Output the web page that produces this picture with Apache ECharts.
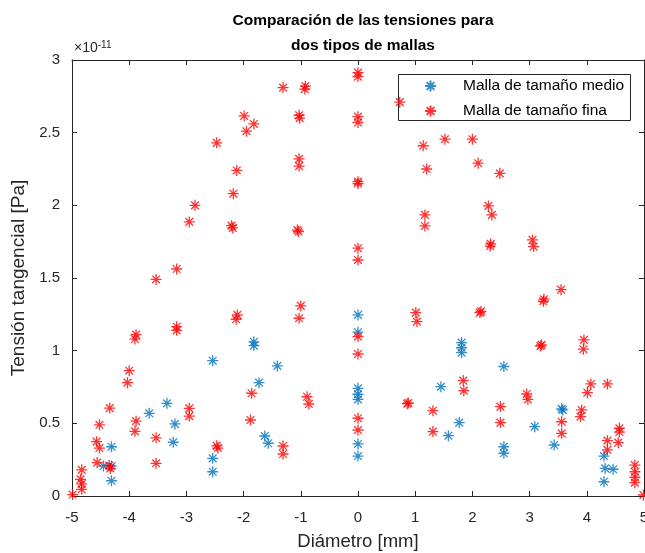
<!DOCTYPE html>
<html>
<head>
<meta charset="utf-8">
<script src="https://cdn.jsdelivr.net/npm/echarts@6/dist/echarts.min.js"></script>
<style>
html,body{margin:0;padding:0;background:#fff;}
#c{width:645px;height:553px;}
</style>
</head>
<body>
<div id="c"></div>
<script>
// Diámetro [mm] and Tensión tangencial [Pa] (values in units of 1e-11 Pa)
const mediumDiam = [-4.31,-4.45,-4.31,-4.31,-3.65,-3.34,-3.20,-3.23,-2.54,-2.54,-2.54,
  -1.82,-1.82,-1.73,-1.41,-1.63,-1.57,
  0,0,0,0,0,0,0,
  1.45,1.58,1.77,1.81,1.81,1.81,2.55,2.55,2.55,3.09,3.43,3.58,3.56,4.30,4.32,4.46,4.30];
const mediumTension = [0.339,0.206,0.206,0.105,0.569,0.638,0.496,0.370,0.931,0.259,0.167,
  1.060,1.035,0.780,0.895,0.413,0.363,
  1.246,1.127,0.741,0.700,0.665,0.358,0.275,
  0.752,0.415,0.505,1.056,0.986,1.020,0.891,0.339,0.294,0.477,0.351,0.592,0.600,0.275,0.190,0.184,0.098];

const fineDiam = [-4.99,-4.83,-4.85,-4.83,-4.83,-4.56,-4.57,-4.52,-4.52,-4.34,-4.35,-4.33,
  -4.03,-4.00,-3.90,-3.88,-3.88,-3.90,-3.53,-3.53,-3.53,-3.17,-3.17,-3.17,-2.95,-2.95,-2.95,-2.85,
  -2.47,-2.47,-2.45,-2.21,-2.19,-2.18,-2.12,-2.11,-2.13,-1.99,-1.95,-1.82,-1.86,-1.88,
  -1.31,-1.31,-1.31,-1.03,-1.02,-1.03,-1.03,-1.06,-1.04,-1.00,-1.03,-0.92,-0.93,-0.89,-0.86,
  0,0,0,0,0,0,0,0,0,0,0,0,
  0.73,0.88,0.86,1.01,1.03,1.14,1.20,1.17,1.17,1.31,1.31,1.52,1.84,1.85,2.00,2.10,2.13,2.15,
  2.28,2.34,2.32,2.31,2.48,2.49,2.49,2.95,2.97,3.05,3.07,3.19,3.21,3.25,3.24,3.55,3.56,3.56,
  3.91,3.89,3.95,3.94,4.07,4.01,4.36,4.36,4.36,4.57,4.57,4.55,4.84,4.84,4.84,4.84,4.99];
const fineTension = [0.010,0.180,0.115,0.083,0.046,0.230,0.374,0.330,0.490,0.605,0.210,0.190,
  0.780,0.862,1.080,1.110,0.515,0.445,1.490,0.400,0.225,1.562,1.165,1.140,0.603,0.550,1.886,2.000,
  2.430,0.345,0.330,1.860,1.845,2.080,2.240,1.246,1.216,2.615,2.510,2.560,0.707,0.523,
  2.810,0.344,0.289,2.620,2.600,2.320,2.270,1.830,1.820,1.308,1.223,2.820,2.800,0.683,0.633,
  2.913,2.886,2.610,2.570,2.163,2.150,1.705,1.624,1.097,0.977,0.535,0.454,
  2.710,0.640,0.635,1.262,1.200,2.410,2.250,1.934,1.858,0.587,0.443,2.455,0.794,0.725,2.455,2.290,1.262,1.270,
  1.996,1.934,1.735,1.720,2.220,0.615,0.505,0.702,0.665,1.762,1.716,1.032,1.040,1.354,1.340,1.420,0.511,0.431,
  0.592,0.546,1.074,1.010,0.771,0.711,0.771,0.381,0.317,0.466,0.440,0.367,0.213,0.167,0.129,0.092,0.007];

const xTicks = [-5,-4,-3,-2,-1,0,1,2,3,4,5];
const yTicks = [0,0.5,1,1.5,2,2.5,3];
const seriesNames = ['Malla de tamaño medio','Malla de tamaño fina'];

const zip = (a,b) => a.map((v,i)=>[v,b[i]]);
const FONT = 'Liberation Sans, Arial, Helvetica, sans-serif';
const AX = '#262626';
const star = 'path://M10,0L10,20M0,10L20,10M3,3L17,17M3,17L17,3';

const chart = echarts.init(document.getElementById('c'), null, {renderer:'canvas'});
const axBase = {
  axisLine:{show:true, onZero:false, lineStyle:{color:AX, width:1}},
  axisTick:{show:true, inside:true, length:5, lineStyle:{color:AX}},
  splitLine:{show:false}
};
const xr = {type:'value', min:xTicks[0], max:xTicks[xTicks.length-1], interval:1};
const yr = {type:'value', min:yTicks[0], max:yTicks[yTicks.length-1], interval:0.5};
chart.setOption({
  animation:false,
  backgroundColor:'#fff',
  title:{
    text:'Comparación de las tensiones para\ndos tipos de mallas',
    left:358, top:3, textAlign:'center',
    textStyle:{fontFamily:FONT, fontWeight:'bold', fontSize:15.5, color:'#000', lineHeight:25}
  },
  legend:{
    orient:'vertical', left:424, top:78, itemWidth:11, itemHeight:11, itemGap:9,
    padding:0,
    data:seriesNames,
    textStyle:{fontFamily:FONT, fontSize:15.5, color:'#000', padding:[0,0,0,22]}
  },
  grid:{left:72, right:1, top:60, bottom:57, containLabel:false, outerBoundsMode:'none'},
  xAxis:[
    Object.assign({}, axBase, xr, {position:'bottom',
      name:'Diámetro [mm]', nameLocation:'middle', nameGap:36,
      nameTextStyle:{fontFamily:FONT, fontSize:18.5, color:AX},
      axisLabel:{fontFamily:FONT, fontSize:15, color:AX, margin:14}}),
    Object.assign({}, axBase, xr, {position:'top', axisLabel:{show:false}})
  ],
  yAxis:[
    Object.assign({}, axBase, yr, {position:'left',
      name:'Tensión tangencial [Pa]', nameLocation:'middle', nameGap:39,
      nameTextStyle:{fontFamily:FONT, fontSize:19, color:AX},
      axisLabel:{fontFamily:FONT, fontSize:15, color:AX, margin:12}}),
    Object.assign({}, axBase, yr, {position:'right', axisLabel:{show:false}})
  ],
  graphic:[
    {type:'rect', left:398, top:74, shape:{width:232, height:46}, style:{fill:'#fff', stroke:AX, lineWidth:1}, z:0, zlevel:0},
    {type:'text', left:74, top:40, style:{
      rich:{b:{fontFamily:FONT, fontSize:14, fill:AX}, s:{fontFamily:FONT, fontSize:10, fill:AX, verticalAlign:'top', padding:[0,0,6,0]}},
      text:'{b|×10}{s|-11}'}}
  ],
  series:[
    {name:seriesNames[0], type:'scatter', data:zip(mediumDiam, mediumTension), symbol:star, symbolSize:11,
      itemStyle:{color:'#0072BD', borderColor:'#0072BD', borderWidth:1.3}, z:2},
    {name:seriesNames[1], type:'scatter', data:zip(fineDiam, fineTension), symbol:star, symbolSize:11,
      itemStyle:{color:'#FF0000', borderColor:'#FF0000', borderWidth:1.3}, z:3}
  ]
});
</script>
</body>
</html>
